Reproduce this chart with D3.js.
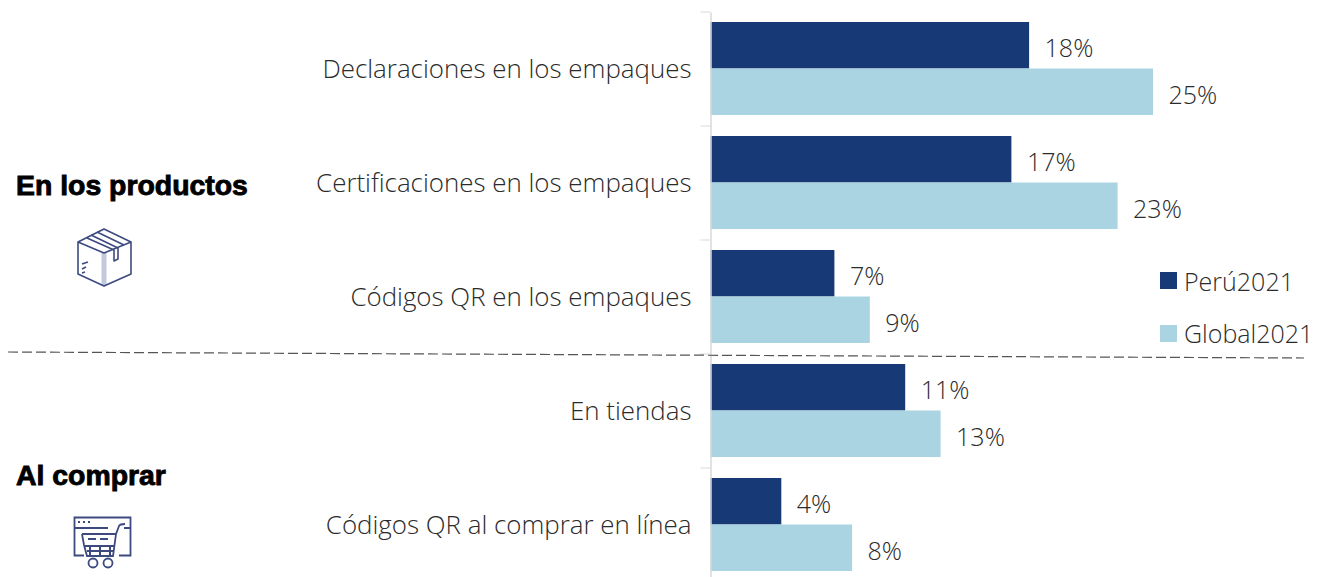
<!DOCTYPE html>
<html><head><meta charset="utf-8">
<script src="https://cdn.jsdelivr.net/npm/d3@7/dist/d3.min.js"></script>
<style>
html,body{margin:0;padding:0;background:#fff;overflow:hidden}
svg{display:block}
text{font-family:"Open Sans",sans-serif;font-weight:300;fill:#2b2b2b}
</style></head><body><svg id="c" width="1328" height="577"></svg>
<script>
const categories=["Declaraciones en los empaques","Certificaciones en los empaques","Códigos QR en los empaques","En tiendas","Códigos QR al comprar en línea"];
const seriesNames=["Perú2021","Global2021"];
const peru=[18,17,7,11,4];
const globalV=[25,23,9,13,8];
const groups=["En los productos","Al comprar"];
const colors=["#173a77","#aad4e2"];
const svg=d3.select("#c");
const x=d3.scaleLinear().domain([0,25]).range([710.5,1153]);
const y=d3.scaleBand().domain(categories).range([12,582]);
const vals=[peru,globalV];
seriesNames.forEach((s,k)=>{
  const g=svg.append("g");
  g.selectAll("rect").data(vals[k]).join("rect")
    .attr("x",x(0)).attr("y",(d,i)=>y(categories[i])+10+k*46.5)
    .attr("width",d=>x(d)-x(0)).attr("height",46.5).attr("fill",colors[k]);
  g.selectAll("text").data(vals[k]).join("text")
    .attr("x",d=>x(d)+15.5).attr("y",(d,i)=>y(categories[i])+10+k*46.5+26.5)
    .attr("dy","0.35em").attr("font-size",25).text(d=>d+"%");
});
// axis
const axis=d3.axisLeft(y).tickSize(0).tickPadding(19);
const ag=svg.append("g").attr("transform","translate(710.5,0)").call(axis);
ag.select(".domain").attr("stroke","#d9d9d9").attr("stroke-width",1.5);
ag.selectAll("text").attr("font-size",25.9).style("font-family",'"Open Sans",sans-serif').style("font-weight",300).style("fill","#2b2b2b").attr("dy","0.33em");
ag.selectAll(".sep").data(d3.range(5)).join("line").attr("class","sep")
  .attr("x1",-10).attr("x2",0).attr("y1",i=>12+i*y.step()).attr("y2",i=>12+i*y.step())
  .attr("stroke","#d9d9d9").attr("stroke-width",1);
// divider
svg.append("line").attr("x1",8).attr("x2",1304).attr("y1",352).attr("y2",358)
  .attr("stroke","#555").attr("stroke-width",1.2).attr("stroke-dasharray","10 4");
// legend
seriesNames.forEach((s,k)=>{
  const ly=282+k*52.5;
  svg.append("rect").attr("x",1160).attr("y",272+k*53).attr("width",17).attr("height",17).attr("fill",colors[k]);
  svg.append("text").attr("x",1184).attr("y",ly).attr("dy","0.35em").attr("font-size",25).text(s);
});
// group labels
[[16,185],[16,475]].forEach((p,i)=>{
  svg.append("text").attr("x",p[0]).attr("y",p[1]).attr("dy","0.35em")
   .attr("font-size",28.4).style("font-family",'"Liberation Sans",sans-serif').style("font-weight",700).style("fill","#000")
   .attr("stroke","#000").attr("stroke-width",0.9).text(groups[i]);
});
// box icon
const ic="#3d4a80";
const box=svg.append("g").attr("fill","none").attr("stroke",ic).attr("stroke-width",1.6).attr("stroke-linejoin","round");
box.append("path").attr("d","M104 253 V286").attr("stroke","#c3c9dd").attr("stroke-width",5);
box.append("path").attr("d","M104 229 L131 242 L131 274 L104 286 L78 274 L78 242 Z M78 242 L104 253 L131 242");
box.append("path").attr("d","M91 235 L118 248 V259 L114 261 V250 L87 238");
box.append("path").attr("d","M97 232 L124 245");
box.append("path").attr("d","M82 264 L88 262 M82 269 L86 267 M82 273 L85 272");
// cart icon
const cart=svg.append("g").attr("fill","none").attr("stroke",ic).attr("stroke-width",1.8);
cart.append("path").attr("d","M84 555.5 H74.5 V517.5 H130.5 V555.5 H119");
cart.append("path").attr("d","M74.5 528 H108 M124 528 H130.5");
cart.append("path").attr("d","M78 522 H80 M83 522 H85 M88 522 H90").attr("stroke-width",2.2);
cart.append("path").attr("d","M82 534 H116 L119 526 Q120 524 125 524 M82 534 L84 545 L87 556 H113 L116 534");
cart.append("path").attr("d","M88 539 H96 M100 539 H108 M85 546 H114").attr("stroke-width",2);
cart.append("path").attr("d","M90 546 V556 M100 546 V556 M110 546 V556 M87 551 H113").attr("stroke-width",2);
cart.append("circle").attr("cx",93).attr("cy",563).attr("r",4.5);
cart.append("circle").attr("cx",108).attr("cy",563).attr("r",4.5);
</script></body></html>
